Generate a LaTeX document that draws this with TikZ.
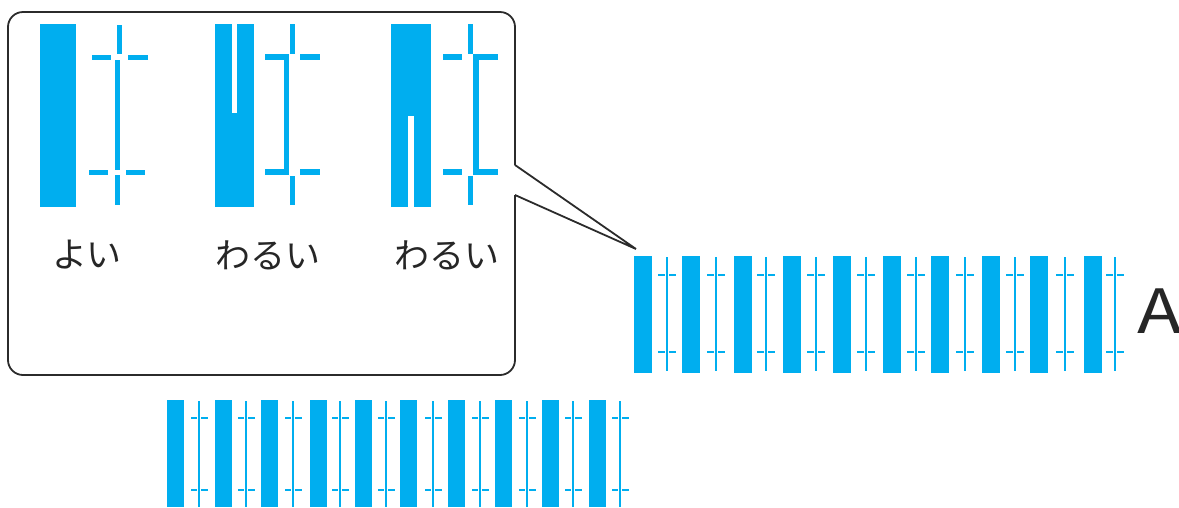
\documentclass[tikz,border=0pt]{standalone}
\usepackage{fontspec}
\newfontfamily\jp{Noto Sans CJK JP}
\definecolor{cy}{HTML}{00AEEF}
\definecolor{frame}{HTML}{2B2B2B}
\tikzset{
  ink/.style={fill=cy},
  slit/.style={fill=white},
  callout/.style={draw=frame, line width=1.8pt},
  jplabel/.style={font=\jp\fontsize{35}{40}\selectfont, text=black!85, inner sep=0pt},
  marktick/.style={draw=cy, line width=2.9pt},
}
\begin{document}
\begin{tikzpicture}[x=1pt,y=-1pt]
\useasboundingbox (0,0) rectangle (1179,507);

% ---------- callout box ----------
\draw[callout, rounded corners=15pt] (515,165) -- (515,12) -- (8,12) -- (8,375) -- (515,375) -- (515,195);
\coordinate (apex) at (636,249);
\coordinate (pa) at (515,165);
\coordinate (pb) at (515,195);
\draw[callout, line join=miter] (pa) -- (apex) -- (pb);

% ---------- panel 1 (good) ----------
\fill[ink] (40,24) rectangle (76,207);
\fill[ink] (117,25) rectangle (122,54);
\fill[ink] (92,55) rectangle (111,60);
\fill[ink] (128,55) rectangle (148,60);
\fill[ink] (115,60) rectangle (120,170);
\fill[ink] (89,169.5) rectangle (108,174.5);
\fill[ink] (126,169.5) rectangle (145,174.5);
\fill[ink] (115,175) rectangle (120,205);

% ---------- panel 2 (bad) ----------
\fill[ink] (215,24) rectangle (254,207);
\fill[slit] (232,24) rectangle (237,113);
\fill[ink] (290,24) rectangle (295,54);
\fill[ink] (265,54) rectangle (289,60);
\fill[ink] (300,54) rectangle (320,60);
\fill[ink] (284,54) rectangle (289,175);
\fill[ink] (265,169) rectangle (289,175);
\fill[ink] (300,169) rectangle (320,175);
\fill[ink] (290,176) rectangle (295,205);

% ---------- panel 3 (bad) ----------
\fill[ink] (391,24) rectangle (431,207);
\fill[slit] (408,116) rectangle (414,207);
\fill[ink] (468,24) rectangle (473,54);
\fill[ink] (443,54) rectangle (462,60);
\fill[ink] (473,54) rectangle (498,60);
\fill[ink] (473,54) rectangle (479,175);
\fill[ink] (443,169) rectangle (462,175);
\fill[ink] (473,169) rectangle (498,175);
\fill[ink] (468,176) rectangle (473,205);

% ---------- labels ----------
\node[jplabel] (good) at (87,255) {よい};
\node[jplabel] (bad1) at (268,255) {わるい};
\node[jplabel] (bad2) at (447,255) {わるい};

% ---------- strip A (right) ----------
\foreach \b/\m in {634/667, 682/716, 734/766, 783/816, 833/866, 883/916, 931/965, 982/1015, 1030/1065, 1084/1115}{
  \fill[ink] (\b,256) rectangle ({\b+18},373);
  \draw[marktick] (\m,257) -- (\m,371);
  \draw[marktick] ({\m-9},275) -- ({\m-2.2},275);
  \draw[marktick] ({\m+2.2},275) -- ({\m+9},275);
  \draw[marktick] ({\m-9},352) -- ({\m-2.2},352);
  \draw[marktick] ({\m+2.2},352) -- ({\m+9},352);
}
\node[font=\jp\fontsize{61}{70}\selectfont, text=black!85, anchor=base west, inner sep=0pt, xscale=1.2] (labA) at (1137,333) {A};

% ---------- strip (bottom) ----------
\foreach \b/\m in {167/199, 215/246, 261/293, 310/340, 355/386, 400/433, 448/480, 495/527, 542/573, 589/620}{
  \fill[ink] (\b,400) rectangle ({\b+17},507);
  \draw[marktick] (\m,401) -- (\m,507);
  \draw[marktick] ({\m-8},418) -- ({\m-2.2},418);
  \draw[marktick] ({\m+2.2},418) -- ({\m+9},418);
  \draw[marktick] ({\m-8},490) -- ({\m-2.2},490);
  \draw[marktick] ({\m+2.2},490) -- ({\m+9},490);
}
\end{tikzpicture}
\end{document}
